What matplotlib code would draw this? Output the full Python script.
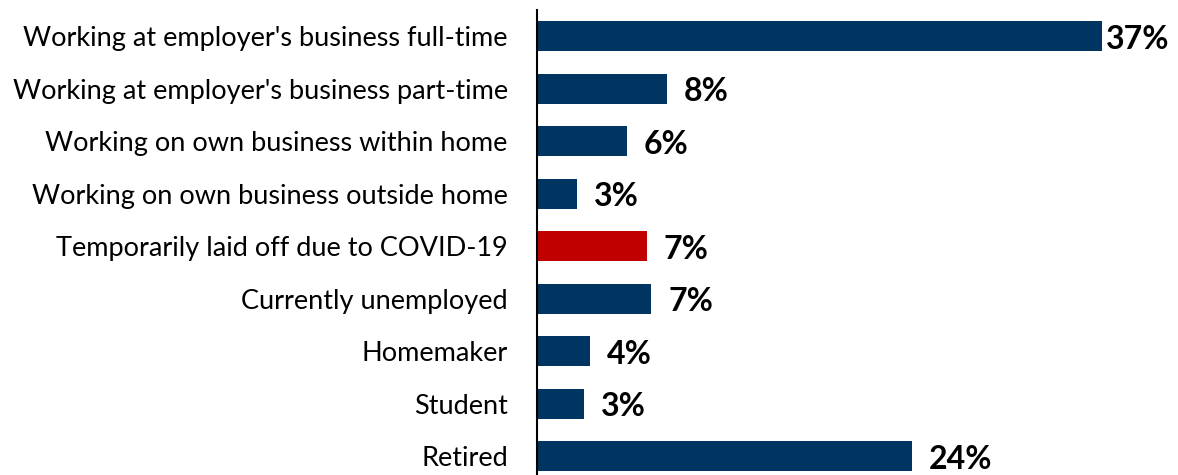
import matplotlib.pyplot as plt

categories = [
    "Working at employer's business full-time",
    "Working at employer's business part-time",
    "Working on own business within home",
    "Working on own business outside home",
    "Temporarily laid off due to COVID-19",
    "Currently unemployed",
    "Homemaker",
    "Student",
    "Retired",
]
values = [37.0, 8.5, 5.9, 2.6, 7.2, 7.5, 3.5, 3.1, 24.6]
labels = ["37%", "8%", "6%", "3%", "7%", "7%", "4%", "3%", "24%"]
highlight = "Temporarily laid off due to COVID-19"

NAVY = "#003461"
RED = "#C00000"

plt.rcParams["font.family"] = ["Lato", "DejaVu Sans"]

fig = plt.figure(figsize=(11.78, 4.75), dpi=100)
ax = fig.add_axes([537 / 1178, 0.0, 1 - 537 / 1178, 1 - 10 / 475])

ypos = list(range(len(categories)))
colors = [RED if c == highlight else NAVY for c in categories]
ax.barh(ypos, values, height=0.57, color=colors)

vmax = max(values)
for y, v, lab in zip(ypos, values, labels):
    # the longest bar's label sits tight against the bar so it fits
    off = 0.25 if v == vmax else 1.1
    ax.text(v + off, y + 0.06, lab, va="center", ha="left", fontsize=23,
            fontweight="bold", color="black")

ax.set_yticks(ypos)
ax.set_yticklabels(categories, fontsize=19.5)
ax.tick_params(axis="y", length=0, pad=21)
ax.set_xticks([])
ax.set_xlim(0, 42.0)
ax.set_ylim(len(categories) - 1 + 0.36, -0.5)

for side in ["top", "right", "bottom"]:
    ax.spines[side].set_visible(False)
ax.spines["left"].set_color("black")
ax.spines["left"].set_linewidth(1.5)

fig.savefig("out.png", dpi=100)
